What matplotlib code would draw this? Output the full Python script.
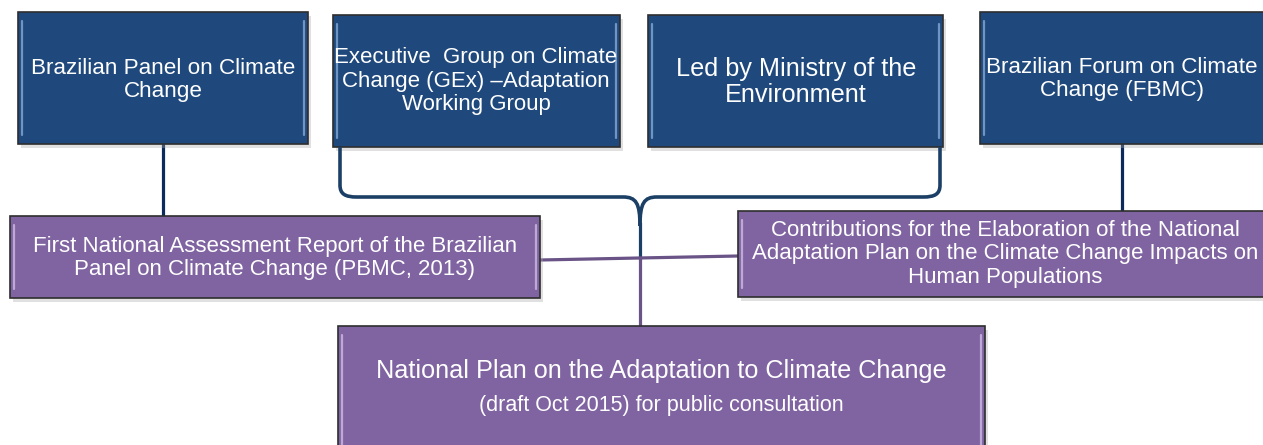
import matplotlib
matplotlib.use("Agg")
import matplotlib.pyplot as plt
from matplotlib.patches import Rectangle, PathPatch
from matplotlib.path import Path

# ---- content ----
top_labels = [
    "Brazilian Panel on Climate\nChange",
    "Executive  Group on Climate\nChange (GEx) \u2013Adaptation\nWorking Group",
    "Led by Ministry of the\nEnvironment",
    "Brazilian Forum on Climate\nChange (FBMC)",
]
mid_labels = [
    "First National Assessment Report of the Brazilian\nPanel on Climate Change (PBMC, 2013)",
    "Contributions for the Elaboration of the National\nAdaptation Plan on the Climate Change Impacts on\nHuman Populations",
]
bottom_title = "National Plan on the Adaptation to Climate Change"
bottom_sub = "(draft Oct 2015) for public consultation"

# ---- layout (pixel space) ----
W, H = 1263, 445
top_boxes = [(18, 12, 308, 144), (333, 15, 620, 147), (648, 15, 943, 147), (980, 12, 1275, 144)]
top_sizes = [16.2, 16.0, 18.2, 16.2]
top_textx = [163, 476, 796, 1122]
top_texty = [80, 81, 82, 79]
mid_boxes = [(10, 216, 540, 298), (738, 211, 1275, 297)]
mid_textx = [275, 1005]
mid_texty = [258, 254]
bot_box = (338, 326, 985, 460)

BLUE = "#1f497d"
BLUE_HI = "#7fa3cf"
PURPLE = "#8064a2"
PURPLE_HI = "#c9b6e0"
NAVY_LINE = "#0d2a5c"
BRACE = "#1c3f66"
PURP_LINE = "#6a5387"

fig = plt.figure(figsize=(W / 100, H / 100), dpi=100)
ax = fig.add_axes([0, 0, 1, 1])
ax.set_xlim(0, W)
ax.set_ylim(H, 0)
ax.axis("off")

PX = 0.72  # points per pixel at dpi 100


def draw_box(b, fill, hi):
    x0, y0, x1, y1 = b
    w, h = x1 - x0, y1 - y0
    ax.add_patch(Rectangle((x0 + 3, y0 + 4), w, h, facecolor="#a8a8a8", alpha=0.35,
                           edgecolor="none", zorder=2))
    ax.add_patch(Rectangle((x0, y0), w, h, facecolor=fill, edgecolor="#2e2e2e",
                           lw=1.2, zorder=3))
    for xx in (x0 + 4, x1 - 4):
        ax.plot([xx, xx], [y0 + 9, y1 - 9], color=hi, lw=2.2 * PX,
                solid_capstyle="round", zorder=4, alpha=0.85)


# connectors
ax.plot([163, 163], [144, 216], color=NAVY_LINE, lw=3.2 * PX, zorder=1)
ax.plot([1122, 1122], [144, 212], color=NAVY_LINE, lw=3.2 * PX, zorder=1)

codes = [Path.MOVETO, Path.LINETO, Path.CURVE4, Path.CURVE4, Path.CURVE4, Path.LINETO,
         Path.CURVE4, Path.CURVE4, Path.CURVE4]
verts_l = [(340, 147), (340, 185), (340, 194), (345, 197), (357, 197), (623, 197),
           (636, 197), (640, 203), (640, 226)]
verts_r = [(940, 147), (940, 185), (940, 194), (935, 197), (923, 197), (657, 197),
           (644, 197), (640, 203), (640, 226)]
for v in (verts_l, verts_r):
    ax.add_patch(PathPatch(Path(v, codes), facecolor="none", edgecolor=BRACE,
                           lw=3.6 * PX, zorder=5, capstyle="butt"))
ax.plot([640, 640], [224, 258], color=BRACE, lw=3.2 * PX, zorder=1)
ax.plot([640, 640], [258, 327], color=PURP_LINE, lw=3.2 * PX, zorder=1)
ax.plot([540, 738], [260, 256], color=PURP_LINE, lw=3.2 * PX, zorder=1)

# boxes
for b in top_boxes:
    draw_box(b, BLUE, BLUE_HI)
for b in mid_boxes:
    draw_box(b, PURPLE, PURPLE_HI)
draw_box(bot_box, PURPLE, PURPLE_HI)

font = "Liberation Sans"
for lab, fs, tx, ty in zip(top_labels, top_sizes, top_textx, top_texty):
    ax.text(tx, ty, lab, ha="center", va="center", color="white",
            fontsize=fs, family=font, linespacing=1.15, zorder=6)

for lab, tx, ty in zip(mid_labels, mid_textx, mid_texty):
    ax.text(tx, ty, lab, ha="center", va="center", color="white",
            fontsize=16.0, family=font, linespacing=1.15, zorder=6)

ax.text(661, 371, bottom_title, ha="center", va="center", color="white",
        fontsize=18.2, family=font, zorder=6)
ax.text(661, 406, bottom_sub, ha="center", va="center", color="white",
        fontsize=15.5, family=font, zorder=6)

fig.savefig("out.png", dpi=100)
